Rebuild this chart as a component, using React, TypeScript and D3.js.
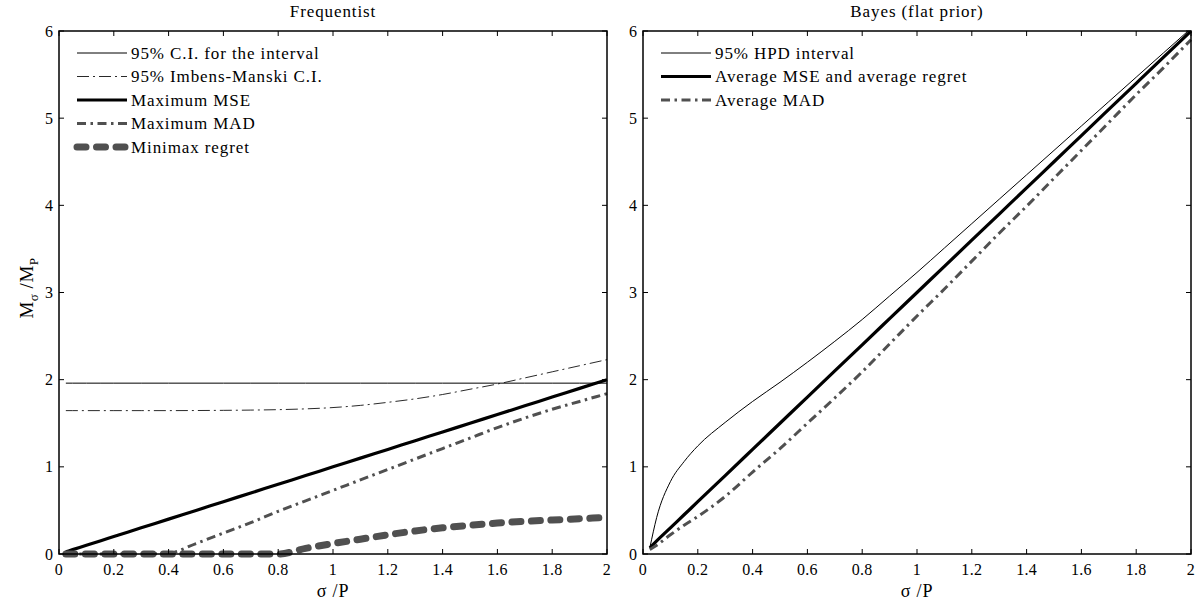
import React from "react";
import { scaleLinear, line, curveMonotoneX, range } from "d3";

// sigma / P grid shared by every series
const sigmaP = [0.025, 0.05, 0.1, 0.15, 0.2, 0.3, 0.4, 0.5, 0.6, 0.7, 0.8, 0.9, 1.0, 1.1, 1.2, 1.3, 1.4, 1.5, 1.6, 1.7, 1.8, 1.9, 2.0];

// Frequentist panel
const ciInterval = [1.96, 1.96, 1.96, 1.96, 1.96, 1.96, 1.96, 1.96, 1.96, 1.96, 1.96, 1.96, 1.96, 1.96, 1.96, 1.96, 1.96, 1.96, 1.96, 1.96, 1.96, 1.96, 1.96];
const imbensManski = [1.645, 1.645, 1.645, 1.645, 1.645, 1.645, 1.645, 1.646, 1.648, 1.651, 1.656, 1.665, 1.68, 1.705, 1.74, 1.78, 1.83, 1.89, 1.95, 2.02, 2.09, 2.16, 2.23];
const maxMSE = [0.025, 0.05, 0.1, 0.15, 0.2, 0.3, 0.4, 0.5, 0.6, 0.7, 0.8, 0.9, 1.0, 1.1, 1.2, 1.3, 1.4, 1.5, 1.6, 1.7, 1.8, 1.9, 2.0];
const maxMAD = [0, 0, 0, 0, 0, 0, 0.01, 0.12, 0.24, 0.36, 0.49, 0.61, 0.73, 0.85, 0.97, 1.09, 1.21, 1.33, 1.45, 1.56, 1.66, 1.75, 1.84];
const minimaxRegret = [0, 0, 0, 0, 0, 0, 0, 0, 0, 0, 0, 0.065, 0.12, 0.17, 0.22, 0.265, 0.3, 0.33, 0.355, 0.375, 0.39, 0.405, 0.42];

// Bayes (flat prior) panel
const hpdInterval = [0.07, 0.42, 0.83, 1.06, 1.24, 1.51, 1.75, 1.97, 2.2, 2.44, 2.69, 2.96, 3.23, 3.51, 3.79, 4.07, 4.35, 4.63, 4.91, 5.19, 5.47, 5.75, 6.03];
const avgMSE = [0.07, 0.15, 0.3, 0.45, 0.6, 0.9, 1.2, 1.5, 1.8, 2.1, 2.4, 2.7, 3.0, 3.3, 3.6, 3.9, 4.2, 4.5, 4.8, 5.1, 5.4, 5.7, 6.0];
const avgMAD = [0.05, 0.1, 0.22, 0.33, 0.43, 0.66, 0.94, 1.21, 1.5, 1.79, 2.09, 2.41, 2.73, 3.04, 3.36, 3.68, 3.99, 4.31, 4.63, 4.95, 5.27, 5.58, 5.9];

const xTicks = range(0, 11).map((i) => i * 0.2);
const yTicks = [0, 1, 2, 3, 4, 5, 6];

const FONT = "'Liberation Serif', 'Times New Roman', serif";
const GREY = "#505050";

type Style = { width: number; color: string; dash?: string; cap?: string };

const styles: Record<string, Style> = {
  thin: { width: 1, color: "#000" },
  imci: { width: 0.9, color: "#111", dash: "12,4,2,4" },
  thick: { width: 3.2, color: "#000" },
  mad: { width: 3, color: GREY, dash: "9,4.5,2.5,4.5" },
  regret: { width: 7, color: GREY, dash: "9,10.5", cap: "round" },
};

type Series = { label: string; values: number[]; style: Style };

const freqSeries: Series[] = [
  { label: "95% C.I. for the interval", values: ciInterval, style: styles.thin },
  { label: "95% Imbens-Manski C.I.", values: imbensManski, style: styles.imci },
  { label: "Maximum MSE", values: maxMSE, style: styles.thick },
  { label: "Maximum MAD", values: maxMAD, style: styles.mad },
  { label: "Minimax regret", values: minimaxRegret, style: styles.regret },
];

const bayesSeries: Series[] = [
  { label: "95% HPD interval", values: hpdInterval, style: styles.thin },
  { label: "Average MSE and average regret", values: avgMSE, style: styles.thick },
  { label: "Average MAD", values: avgMAD, style: styles.mad },
];

const TOP = 31;
const BOTTOM = 554;

function Panel({ id, x0, x1, title, series }: { id: string; x0: number; x1: number; title: string; series: Series[] }) {
  const x = scaleLinear().domain([0, 2]).range([x0, x1]);
  const y = scaleLinear().domain([0, 6]).range([BOTTOM, TOP]);
  const gen = line<number>()
    .x((_, i) => x(sigmaP[i]))
    .y((d) => y(d))
    .curve(curveMonotoneX);
  const tickLen = 5;
  const fmt = (v: number) => String(+v.toFixed(1));
  const cx = (x0 + x1) / 2;

  return (
    <g>
      <defs>
        <clipPath id={id}>
          <rect x={x0} y={TOP} width={x1 - x0 + 2} height={BOTTOM - TOP + 10} />
        </clipPath>
      </defs>
      <text x={cx} y={17} textAnchor="middle" fontSize={17} letterSpacing={0.9}>{title}</text>

      {/* data */}
      <g clipPath={`url(#${id})`}>
        {series.map((s) => (
          <path
            key={s.label}
            d={gen(s.values) || ""}
            fill="none"
            stroke={s.style.color}
            strokeWidth={s.style.width}
            strokeDasharray={s.style.dash}
            strokeLinecap={(s.style.cap as any) || "butt"}
            strokeLinejoin="round"
          />
        ))}
      </g>

      {/* legend */}
      {series.map((s, i) => {
        const ly = 53 + i * 23.5;
        return (
          <g key={"lg" + s.label}>
            <line
              x1={x0 + 18}
              x2={x0 + 68}
              y1={ly}
              y2={ly}
              stroke={s.style.color}
              strokeWidth={s.style.width}
              strokeDasharray={s.style.dash}
              strokeLinecap={(s.style.cap as any) || "butt"}
            />
            <text x={x0 + 72} y={ly} dominantBaseline="central" fontSize={17} letterSpacing={0.9}>{s.label}</text>
          </g>
        );
      })}

      {/* ticks */}
      {xTicks.map((t) => (
        <g key={"x" + t}>
          <line x1={x(t)} x2={x(t)} y1={BOTTOM} y2={BOTTOM - tickLen} stroke="#000" strokeWidth={1} />
          <line x1={x(t)} x2={x(t)} y1={TOP} y2={TOP + tickLen} stroke="#000" strokeWidth={1} />
          <text x={x(t)} y={BOTTOM + 21} textAnchor="middle" fontSize={16} letterSpacing={0.3}>{fmt(t)}</text>
        </g>
      ))}
      {yTicks.map((t) => (
        <g key={"y" + t}>
          <line x1={x0} x2={x0 + tickLen} y1={y(t)} y2={y(t)} stroke="#000" strokeWidth={1} />
          <line x1={x1} x2={x1 - tickLen} y1={y(t)} y2={y(t)} stroke="#000" strokeWidth={1} />
          <text x={x0 - 6} y={y(t)} textAnchor="end" dominantBaseline="central" fontSize={16}>{t}</text>
        </g>
      ))}
      <rect x={x0} y={TOP} width={x1 - x0} height={BOTTOM - TOP} fill="none" stroke="#000" strokeWidth={1.5} />

      <text x={cx} y={597} textAnchor="middle" fontSize={18} letterSpacing={0.8}>σ /P</text>
    </g>
  );
}

export default function App() {
  return (
    <div style={{ position: "absolute", left: 0, top: 0 }}>
      <svg width={1203} height={601} style={{ display: "block", background: "#fff" }} fontFamily={FONT}>
        <rect width={1203} height={601} fill="#fff" />
        <Panel id="clipFreq" x0={59} x1={607} title="Frequentist" series={freqSeries} />
        <Panel id="clipBayes" x0={643} x1={1191} title="Bayes (flat prior)" series={bayesSeries} />
        <text transform="translate(33,288) rotate(-90)" textAnchor="middle" fontSize={19} letterSpacing={0.5}>
          M<tspan fontSize={13} dy={5}>σ</tspan>
          <tspan dy={-5}> /M</tspan>
          <tspan fontSize={13} dy={5}>P</tspan>
        </text>
      </svg>
    </div>
  );
}
